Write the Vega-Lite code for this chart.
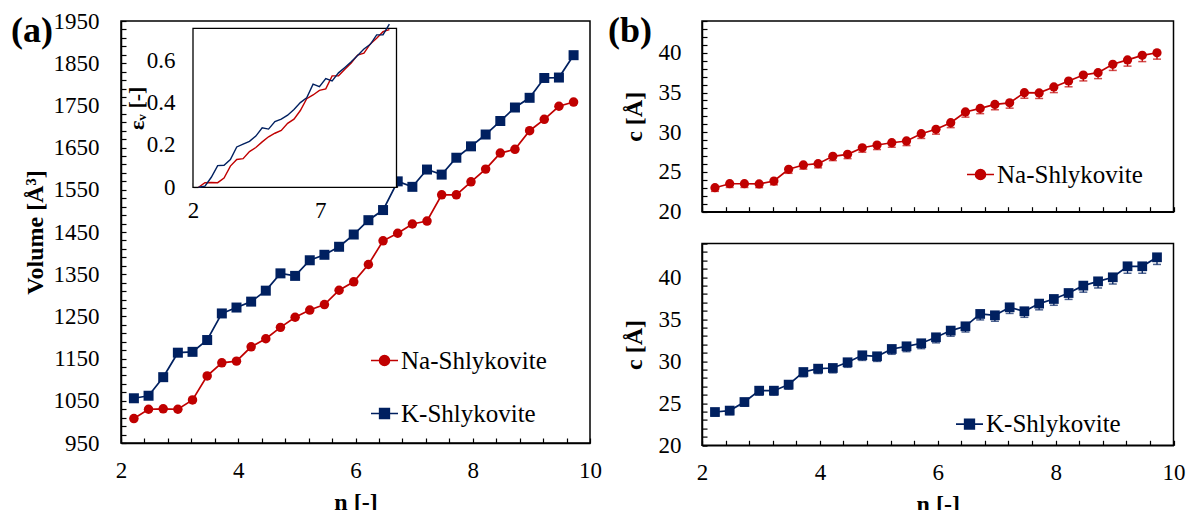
{
  "$schema": "https://vega.github.io/schema/vega-lite/v6.json",
  "padding": {"left": 10, "top": 9, "right": 0, "bottom": 0},
  "background": "white",
  "config": {
    "font": "Liberation Serif",
    "view": {"stroke": "black", "strokeWidth": 1.5}
  },
  "datasets": {
    "d": [
      {"n": 2.22, "s": "Na-Shlykovite", "V": 1008, "eps": 0, "c": 23.02, "lo": 22.56},
      {"n": 2.47, "s": "Na-Shlykovite", "V": 1030, "eps": 0.0218, "c": 23.52, "lo": 23.05},
      {"n": 2.72, "s": "Na-Shlykovite", "V": 1031, "eps": 0.0228, "c": 23.52, "lo": 23.05},
      {"n": 2.97, "s": "Na-Shlykovite", "V": 1030, "eps": 0.0218, "c": 23.5, "lo": 23.03},
      {"n": 3.22, "s": "Na-Shlykovite", "V": 1052, "eps": 0.0437, "c": 23.86, "lo": 23.38},
      {"n": 3.47, "s": "Na-Shlykovite", "V": 1109, "eps": 0.1002, "c": 25.34, "lo": 24.83},
      {"n": 3.72, "s": "Na-Shlykovite", "V": 1140, "eps": 0.131, "c": 25.88, "lo": 25.36},
      {"n": 3.97, "s": "Na-Shlykovite", "V": 1144, "eps": 0.1349, "c": 26.04, "lo": 25.52},
      {"n": 4.22, "s": "Na-Shlykovite", "V": 1178, "eps": 0.1687, "c": 26.97, "lo": 26.43},
      {"n": 4.47, "s": "Na-Shlykovite", "V": 1197, "eps": 0.1875, "c": 27.22, "lo": 26.68},
      {"n": 4.72, "s": "Na-Shlykovite", "V": 1224, "eps": 0.2143, "c": 28.05, "lo": 27.49},
      {"n": 4.97, "s": "Na-Shlykovite", "V": 1248, "eps": 0.2381, "c": 28.39, "lo": 27.82},
      {"n": 5.22, "s": "Na-Shlykovite", "V": 1265, "eps": 0.255, "c": 28.68, "lo": 28.11},
      {"n": 5.47, "s": "Na-Shlykovite", "V": 1278, "eps": 0.2679, "c": 28.9, "lo": 28.32},
      {"n": 5.72, "s": "Na-Shlykovite", "V": 1312, "eps": 0.3016, "c": 29.82, "lo": 29.22},
      {"n": 5.97, "s": "Na-Shlykovite", "V": 1332, "eps": 0.3214, "c": 30.37, "lo": 29.76},
      {"n": 6.22, "s": "Na-Shlykovite", "V": 1373, "eps": 0.3621, "c": 31.2, "lo": 30.58},
      {"n": 6.47, "s": "Na-Shlykovite", "V": 1429, "eps": 0.4177, "c": 32.55, "lo": 31.9},
      {"n": 6.72, "s": "Na-Shlykovite", "V": 1447, "eps": 0.4355, "c": 33.0, "lo": 32.34},
      {"n": 6.97, "s": "Na-Shlykovite", "V": 1469, "eps": 0.4573, "c": 33.5, "lo": 32.83},
      {"n": 7.22, "s": "Na-Shlykovite", "V": 1476, "eps": 0.4643, "c": 33.7, "lo": 33.03},
      {"n": 7.47, "s": "Na-Shlykovite", "V": 1538, "eps": 0.5258, "c": 34.98, "lo": 34.28},
      {"n": 7.72, "s": "Na-Shlykovite", "V": 1538, "eps": 0.5258, "c": 34.95, "lo": 34.25},
      {"n": 7.97, "s": "Na-Shlykovite", "V": 1569, "eps": 0.5565, "c": 35.7, "lo": 34.99},
      {"n": 8.22, "s": "Na-Shlykovite", "V": 1599, "eps": 0.5863, "c": 36.45, "lo": 35.72},
      {"n": 8.47, "s": "Na-Shlykovite", "V": 1637, "eps": 0.624, "c": 37.2, "lo": 36.46},
      {"n": 8.72, "s": "Na-Shlykovite", "V": 1646, "eps": 0.6329, "c": 37.5, "lo": 36.75},
      {"n": 8.97, "s": "Na-Shlykovite", "V": 1690, "eps": 0.6766, "c": 38.55, "lo": 37.78},
      {"n": 9.22, "s": "Na-Shlykovite", "V": 1717, "eps": 0.7034, "c": 39.1, "lo": 38.32},
      {"n": 9.47, "s": "Na-Shlykovite", "V": 1748, "eps": 0.7341, "c": 39.68, "lo": 38.89},
      {"n": 9.72, "s": "Na-Shlykovite", "V": 1758, "eps": 0.744, "c": 40.0, "lo": 39.2},
      {"n": 2.22, "s": "K-Shlykovite", "V": 1056, "eps": 0, "c": 23.96, "lo": 23.48},
      {"n": 2.47, "s": "K-Shlykovite", "V": 1062, "eps": 0.0057, "c": 24.13, "lo": 23.65},
      {"n": 2.72, "s": "K-Shlykovite", "V": 1106, "eps": 0.0473, "c": 25.15, "lo": 24.65},
      {"n": 2.97, "s": "K-Shlykovite", "V": 1164, "eps": 0.1023, "c": 26.5, "lo": 25.97},
      {"n": 3.22, "s": "K-Shlykovite", "V": 1166, "eps": 0.1042, "c": 26.5, "lo": 25.97},
      {"n": 3.47, "s": "K-Shlykovite", "V": 1194, "eps": 0.1307, "c": 27.22, "lo": 26.68},
      {"n": 3.72, "s": "K-Shlykovite", "V": 1257, "eps": 0.1903, "c": 28.72, "lo": 28.15},
      {"n": 3.97, "s": "K-Shlykovite", "V": 1271, "eps": 0.2036, "c": 29.12, "lo": 28.54},
      {"n": 4.22, "s": "K-Shlykovite", "V": 1285, "eps": 0.2169, "c": 29.2, "lo": 28.62},
      {"n": 4.47, "s": "K-Shlykovite", "V": 1311, "eps": 0.2415, "c": 29.88, "lo": 29.28},
      {"n": 4.72, "s": "K-Shlykovite", "V": 1352, "eps": 0.2803, "c": 30.71, "lo": 30.1},
      {"n": 4.97, "s": "K-Shlykovite", "V": 1346, "eps": 0.2746, "c": 30.59, "lo": 29.98},
      {"n": 5.22, "s": "K-Shlykovite", "V": 1383, "eps": 0.3097, "c": 31.46, "lo": 30.83},
      {"n": 5.47, "s": "K-Shlykovite", "V": 1396, "eps": 0.322, "c": 31.78, "lo": 31.14},
      {"n": 5.72, "s": "K-Shlykovite", "V": 1415, "eps": 0.34, "c": 32.14, "lo": 31.5},
      {"n": 5.97, "s": "K-Shlykovite", "V": 1444, "eps": 0.3674, "c": 32.85, "lo": 32.19},
      {"n": 6.22, "s": "K-Shlykovite", "V": 1478, "eps": 0.3996, "c": 33.65, "lo": 32.98},
      {"n": 6.47, "s": "K-Shlykovite", "V": 1502, "eps": 0.4223, "c": 34.16, "lo": 33.48},
      {"n": 6.72, "s": "K-Shlykovite", "V": 1570, "eps": 0.4867, "c": 35.63, "lo": 34.92},
      {"n": 6.97, "s": "K-Shlykovite", "V": 1557, "eps": 0.4744, "c": 35.47, "lo": 34.76},
      {"n": 7.22, "s": "K-Shlykovite", "V": 1598, "eps": 0.5133, "c": 36.42, "lo": 35.69},
      {"n": 7.47, "s": "K-Shlykovite", "V": 1586, "eps": 0.5019, "c": 35.95, "lo": 35.23},
      {"n": 7.72, "s": "K-Shlykovite", "V": 1626, "eps": 0.5398, "c": 36.86, "lo": 36.12},
      {"n": 7.97, "s": "K-Shlykovite", "V": 1653, "eps": 0.5653, "c": 37.41, "lo": 36.66},
      {"n": 8.22, "s": "K-Shlykovite", "V": 1681, "eps": 0.5919, "c": 38.12, "lo": 37.36},
      {"n": 8.47, "s": "K-Shlykovite", "V": 1713, "eps": 0.6222, "c": 39.0, "lo": 38.22},
      {"n": 8.72, "s": "K-Shlykovite", "V": 1745, "eps": 0.6525, "c": 39.51, "lo": 38.72},
      {"n": 8.97, "s": "K-Shlykovite", "V": 1768, "eps": 0.6742, "c": 39.99, "lo": 39.19},
      {"n": 9.22, "s": "K-Shlykovite", "V": 1815, "eps": 0.7188, "c": 41.3, "lo": 40.47},
      {"n": 9.47, "s": "K-Shlykovite", "V": 1816, "eps": 0.7197, "c": 41.3, "lo": 40.47},
      {"n": 9.72, "s": "K-Shlykovite", "V": 1869, "eps": 0.7699, "c": 42.37, "lo": 41.52}
    ]
  },
  "data": {"name": "d"},
  "bounds": "flush",
  "spacing": 112,
  "resolve": {"scale": {"shape": "independent", "color": "independent", "fill": "independent", "stroke": "independent"}, "legend": {"shape": "independent", "color": "independent", "fill": "independent", "stroke": "independent"}},
  "hconcat": [
    {
      "width": 469,
      "height": 422,
      "title": {"text": "(a)", "anchor": "start", "frame": "group", "orient": "top", "fontSize": 36, "fontWeight": "bold", "font": "Liberation Serif", "color": "black", "baseline": "alphabetic", "offset": 0, "dx": -110, "dy": 68},
      "resolve": {"scale": {"x": "independent", "y": "independent"}, "axis": {"x": "independent", "y": "independent"}},
      "layer": [
        {
          "encoding": {
            "x": {"field": "n", "type": "quantitative", "scale": {"domain": [2, 10], "nice": false, "zero": false},
              "axis": {"title": "n [-]", "format": "~g", "labelPadding": 21, "titlePadding": 8, "tickCount": 1000, "tickMinStep": 0.1,
                "labelFont": "Liberation Serif", "labelFontSize": 23, "labelColor": "black", "titleFont": "Liberation Serif", "titleFontSize": 24, "titleFontWeight": "bold", "titleColor": "black",
                "domainColor": "black", "domainWidth": 1.5, "tickColor": "black", "tickWidth": 1.2, "tickSize": -5, "labelOverlap": false, "labelFlush": false, "grid": false,
                "values": [2, 2.4, 2.8, 3.2, 3.6, 4, 4.4, 4.8, 5.2, 5.6, 6, 6.4, 6.8, 7.2, 7.6, 8, 8.4, 8.8, 9.2, 9.6, 10],
                "labelExpr": "datum.value % 2 === 0 ? datum.label : ''"}},
            "y": {"field": "V", "type": "quantitative", "scale": {"domain": [950, 1950], "nice": false, "zero": false},
              "axis": {"title": "Volume [Å³]", "format": "d", "labelPadding": 27, "titlePadding": 6, "tickCount": 1000, "tickMinStep": 0.1,
                "labelFont": "Liberation Serif", "labelFontSize": 23, "labelColor": "black", "titleFont": "Liberation Serif", "titleFontSize": 24, "titleFontWeight": "bold", "titleColor": "black",
                "domainColor": "black", "domainWidth": 1.5, "tickColor": "black", "tickWidth": 1.2, "tickSize": -5, "labelOverlap": false, "labelFlush": false, "grid": false,
                "values": [950, 970, 990, 1010, 1030, 1050, 1070, 1090, 1110, 1130, 1150, 1170, 1190, 1210, 1230, 1250, 1270, 1290, 1310, 1330, 1350, 1370, 1390, 1410, 1430, 1450, 1470, 1490, 1510, 1530, 1550, 1570, 1590, 1610, 1630, 1650, 1670, 1690, 1710, 1730, 1750, 1770, 1790, 1810, 1830, 1850, 1870, 1890, 1910, 1930, 1950],
                "labelExpr": "(datum.value - 950) % 100 === 0 ? datum.label : ''"}}
          },
          "layer": [
            {"transform": [{"filter": "datum.s === 'Na-Shlykovite'"}], "mark": {"type": "line", "color": "#C00000", "strokeWidth": 1.7}},
            {"transform": [{"filter": "datum.s === 'K-Shlykovite'"}], "mark": {"type": "line", "color": "#002060", "strokeWidth": 1.7}},
            {"transform": [{"filter": "datum.s === 'Na-Shlykovite'"}], "mark": {"type": "point", "shape": "circle", "filled": true, "size": 90, "color": "#C00000", "opacity": 1}},
            {"transform": [{"filter": "datum.s === 'K-Shlykovite'"}], "mark": {"type": "point", "shape": "square", "filled": true, "size": 100, "color": "#002060", "opacity": 1}},
            {
              "mark": {"type": "point", "filled": true, "opacity": 0, "size": 729, "strokeWidth": 1.6},
              "encoding": {
                "fill": {"field": "s", "type": "nominal", "scale": {"domain": ["Na-Shlykovite", "K-Shlykovite"], "range": ["#C00000", "#002060"]},
                  "legend": {"title": null, "orient": "none", "legendX": 249, "legendY": 325, "padding": 0, "symbolSize": 729, "symbolStrokeWidth": 1.6, "symbolOpacity": 1, "labelOffset": 2, "rowPadding": 25, "labelFont": "Liberation Serif", "labelFontSize": 25, "labelColor": "black", "labelLimit": 400}},
                "stroke": {"field": "s", "type": "nominal", "scale": {"domain": ["Na-Shlykovite", "K-Shlykovite"], "range": ["#C00000", "#002060"]},
                  "legend": {"title": null, "orient": "none", "legendX": 249, "legendY": 325, "padding": 0, "symbolSize": 729, "symbolStrokeWidth": 1.6, "symbolOpacity": 1, "labelOffset": 2, "rowPadding": 25, "labelFont": "Liberation Serif", "labelFontSize": 25, "labelColor": "black", "labelLimit": 400}},
                "shape": {"field": "s", "type": "nominal",
                  "scale": {"domain": ["Na-Shlykovite", "K-Shlykovite"], "range": ["M-1,0L1,0M-0.37,0A0.37,0.37,0,1,1,0.37,0A0.37,0.37,0,1,1,-0.37,0Z", "M-1,0L1,0M-0.36,-0.36L0.36,-0.36L0.36,0.36L-0.36,0.36Z"]},
                  "legend": {"title": null, "orient": "none", "legendX": 249, "legendY": 325, "padding": 0, "symbolSize": 729, "symbolStrokeWidth": 1.6, "symbolOpacity": 1, "labelOffset": 2, "rowPadding": 25, "labelFont": "Liberation Serif", "labelFontSize": 25, "labelColor": "black", "labelLimit": 400}}
              }
            }
          ]
        },
        {
          "layer": [
            {
              "data": {"values": [{}]},
              "mark": {"type": "rect", "fill": "white", "stroke": "black", "strokeWidth": 1.3},
              "encoding": {
                "x": {"datum": 2, "type": "quantitative", "scale": {"domain": [2, 10], "nice": false, "zero": false, "range": [72, 275.5]},
                  "axis": {"orient": "bottom", "offset": -255.7, "title": null, "format": "~g", "labelPadding": 17, "domain": false, "tickCount": 1000, "tickMinStep": 0.1,
                    "labelFont": "Liberation Serif", "labelFontSize": 23, "labelColor": "black", "tickColor": "black", "tickWidth": 1.2, "tickSize": -5, "labelOverlap": false, "labelFlush": false, "grid": false,
                    "values": [2, 3, 4, 5, 6, 7, 8, 9, 10],
                    "labelExpr": "datum.value === 2 || datum.value === 7 ? datum.label : ''"}},
                "x2": {"datum": 10},
                "y": {"datum": 0, "type": "quantitative", "scale": {"domain": [0, 0.75], "nice": false, "zero": false, "range": [166.3, 7.3]},
                  "axis": {"orient": "left", "offset": -72, "title": "εᵥ [-]", "titleFont": "Liberation Serif", "titleFontSize": 22, "titleFontWeight": "bold", "titleColor": "black", "titlePadding": -2, "format": "~g", "labelPadding": 23, "domain": false, "tickCount": 1000, "tickMinStep": 0.001,
                    "labelFont": "Liberation Serif", "labelFontSize": 23, "labelColor": "black", "tickColor": "black", "tickWidth": 1.2, "tickSize": -5, "labelOverlap": false, "labelFlush": false, "grid": false,
                    "values": [0, 0.04, 0.08, 0.12, 0.16, 0.2, 0.24, 0.28, 0.32, 0.36, 0.4, 0.44, 0.48, 0.52, 0.56, 0.6, 0.64, 0.68, 0.72],
                    "labelExpr": "indexof([0, 0.2, 0.4, 0.6], datum.value) >= 0 ? datum.label : ''"}},
                "y2": {"datum": 0.75}
              }
            },
            {
              "mark": {"type": "line", "strokeWidth": 1.4},
              "encoding": {
                "x": {"field": "n", "type": "quantitative"},
                "y": {"field": "eps", "type": "quantitative"},
                "color": {"field": "s", "type": "nominal", "scale": {"domain": ["Na-Shlykovite", "K-Shlykovite"], "range": ["#C00000", "#002060"]}, "legend": null}
              }
            }
          ]
        }
      ]
    },
    {
      "bounds": "flush",
      "spacing": 31.6,
      "resolve": {"scale": {"shape": "independent", "fill": "independent", "stroke": "independent", "y": "independent"}, "legend": {"shape": "independent", "fill": "independent", "stroke": "independent"}},
      "vconcat": [
        {
          "width": 471.5,
          "height": 190.7,
          "title": {"text": "(b)", "anchor": "start", "frame": "group", "orient": "top", "fontSize": 36, "fontWeight": "bold", "font": "Liberation Serif", "color": "black", "baseline": "alphabetic", "offset": 0, "dx": -94, "dy": 68},
          "transform": [{"filter": "datum.s === 'Na-Shlykovite'"}],
          "encoding": {
            "x": {"field": "n", "type": "quantitative", "scale": {"domain": [2, 10], "nice": false, "zero": false},
              "axis": {"title": null, "labels": false, "domainColor": "black", "domainWidth": 1.5, "tickColor": "black", "tickWidth": 1.2, "tickSize": -5, "grid": false, "tickCount": 1000, "tickMinStep": 0.1,
                "values": [2, 2.4, 2.8, 3.2, 3.6, 4, 4.4, 4.8, 5.2, 5.6, 6, 6.4, 6.8, 7.2, 7.6, 8, 8.4, 8.8, 9.2, 9.6, 10]}},
            "y": {"field": "c", "type": "quantitative", "scale": {"domain": [20, 44], "nice": false, "zero": false},
              "axis": {"title": "c [Å]", "format": "d", "labelPadding": 26, "titlePadding": 12, "tickCount": 1000, "tickMinStep": 0.1,
                "labelFont": "Liberation Serif", "labelFontSize": 23, "labelColor": "black", "titleFont": "Liberation Serif", "titleFontSize": 24, "titleFontWeight": "bold", "titleColor": "black",
                "domainColor": "black", "domainWidth": 1.5, "tickColor": "black", "tickWidth": 1.2, "tickSize": -5, "labelOverlap": false, "labelFlush": false, "grid": false,
                "values": [20, 21, 22, 23, 24, 25, 26, 27, 28, 29, 30, 31, 32, 33, 34, 35, 36, 37, 38, 39, 40, 41, 42, 43, 44],
                "labelExpr": "datum.value % 5 === 0 ? datum.label : ''"}}
          },
          "layer": [
            {
              "mark": {"type": "errorbar", "color": "#C00000", "thickness": 1.3, "ticks": {"size": 8, "thickness": 1.5}},
              "encoding": {
                "y": {"field": "lo", "type": "quantitative", "scale": {"domain": [20, 44], "nice": false, "zero": false},
                  "axis": {"title": "c [Å]", "format": "d", "labelPadding": 26, "titlePadding": 12, "tickCount": 1000, "tickMinStep": 0.1,
                    "labelFont": "Liberation Serif", "labelFontSize": 23, "labelColor": "black", "titleFont": "Liberation Serif", "titleFontSize": 24, "titleFontWeight": "bold", "titleColor": "black",
                    "domainColor": "black", "domainWidth": 1.5, "tickColor": "black", "tickWidth": 1.2, "tickSize": -5, "labelOverlap": false, "labelFlush": false, "grid": false,
                    "values": [20, 21, 22, 23, 24, 25, 26, 27, 28, 29, 30, 31, 32, 33, 34, 35, 36, 37, 38, 39, 40, 41, 42, 43, 44],
                    "labelExpr": "datum.value % 5 === 0 ? datum.label : ''"}},
                "y2": {"field": "c"}
              }
            },
            {"mark": {"type": "line", "color": "#C00000", "strokeWidth": 1.7}},
            {"mark": {"type": "point", "shape": "circle", "filled": true, "size": 85, "color": "#C00000", "opacity": 1}},
            {
              "mark": {"type": "point", "filled": true, "opacity": 0, "size": 729, "strokeWidth": 1.6},
              "encoding": {
                "fill": {"field": "s", "type": "nominal", "scale": {"domain": ["Na-Shlykovite"], "range": ["#C00000"]},
                  "legend": {"title": null, "orient": "none", "legendX": 264, "legendY": 139, "padding": 0, "symbolSize": 729, "symbolStrokeWidth": 1.6, "symbolOpacity": 1, "labelOffset": 2, "labelFont": "Liberation Serif", "labelFontSize": 25, "labelColor": "black", "labelLimit": 400}},
                "stroke": {"field": "s", "type": "nominal", "scale": {"domain": ["Na-Shlykovite"], "range": ["#C00000"]},
                  "legend": {"title": null, "orient": "none", "legendX": 264, "legendY": 139, "padding": 0, "symbolSize": 729, "symbolStrokeWidth": 1.6, "symbolOpacity": 1, "labelOffset": 2, "labelFont": "Liberation Serif", "labelFontSize": 25, "labelColor": "black", "labelLimit": 400}},
                "shape": {"field": "s", "type": "nominal",
                  "scale": {"domain": ["Na-Shlykovite"], "range": ["M-1,0L1,0M-0.37,0A0.37,0.37,0,1,1,0.37,0A0.37,0.37,0,1,1,-0.37,0Z"]},
                  "legend": {"title": null, "orient": "none", "legendX": 264, "legendY": 139, "padding": 0, "symbolSize": 729, "symbolStrokeWidth": 1.6, "symbolOpacity": 1, "labelOffset": 2, "labelFont": "Liberation Serif", "labelFontSize": 25, "labelColor": "black", "labelLimit": 400}}
              }
            }
          ]
        },
        {
          "width": 471.5,
          "height": 201.7,
          "transform": [{"filter": "datum.s === 'K-Shlykovite'"}],
          "encoding": {
            "x": {"field": "n", "type": "quantitative", "scale": {"domain": [2, 10], "nice": false, "zero": false},
              "axis": {"title": "n [-]", "format": "~g", "labelPadding": 21, "titlePadding": 8, "tickCount": 1000, "tickMinStep": 0.1,
                "labelFont": "Liberation Serif", "labelFontSize": 23, "labelColor": "black", "titleFont": "Liberation Serif", "titleFontSize": 24, "titleFontWeight": "bold", "titleColor": "black",
                "domainColor": "black", "domainWidth": 1.5, "tickColor": "black", "tickWidth": 1.2, "tickSize": -5, "labelOverlap": false, "labelFlush": false, "grid": false,
                "values": [2, 2.4, 2.8, 3.2, 3.6, 4, 4.4, 4.8, 5.2, 5.6, 6, 6.4, 6.8, 7.2, 7.6, 8, 8.4, 8.8, 9.2, 9.6, 10],
                "labelExpr": "datum.value % 2 === 0 ? datum.label : ''"}},
            "y": {"field": "c", "type": "quantitative", "scale": {"domain": [20, 44], "nice": false, "zero": false},
              "axis": {"title": "c [Å]", "format": "d", "labelPadding": 26, "titlePadding": 12, "tickCount": 1000, "tickMinStep": 0.1,
                "labelFont": "Liberation Serif", "labelFontSize": 23, "labelColor": "black", "titleFont": "Liberation Serif", "titleFontSize": 24, "titleFontWeight": "bold", "titleColor": "black",
                "domainColor": "black", "domainWidth": 1.5, "tickColor": "black", "tickWidth": 1.2, "tickSize": -5, "labelOverlap": false, "labelFlush": false, "grid": false,
                "values": [20, 21, 22, 23, 24, 25, 26, 27, 28, 29, 30, 31, 32, 33, 34, 35, 36, 37, 38, 39, 40, 41, 42, 43, 44],
                "labelExpr": "datum.value % 5 === 0 ? datum.label : ''"}}
          },
          "layer": [
            {
              "mark": {"type": "errorbar", "color": "#002060", "thickness": 1.3, "ticks": {"size": 8, "thickness": 1.5}},
              "encoding": {
                "y": {"field": "lo", "type": "quantitative", "scale": {"domain": [20, 44], "nice": false, "zero": false},
                  "axis": {"title": "c [Å]", "format": "d", "labelPadding": 26, "titlePadding": 12, "tickCount": 1000, "tickMinStep": 0.1,
                    "labelFont": "Liberation Serif", "labelFontSize": 23, "labelColor": "black", "titleFont": "Liberation Serif", "titleFontSize": 24, "titleFontWeight": "bold", "titleColor": "black",
                    "domainColor": "black", "domainWidth": 1.5, "tickColor": "black", "tickWidth": 1.2, "tickSize": -5, "labelOverlap": false, "labelFlush": false, "grid": false,
                    "values": [20, 21, 22, 23, 24, 25, 26, 27, 28, 29, 30, 31, 32, 33, 34, 35, 36, 37, 38, 39, 40, 41, 42, 43, 44],
                    "labelExpr": "datum.value % 5 === 0 ? datum.label : ''"}},
                "y2": {"field": "c"}
              }
            },
            {"mark": {"type": "line", "color": "#002060", "strokeWidth": 1.7}},
            {"mark": {"type": "point", "shape": "square", "filled": true, "size": 95, "color": "#002060", "opacity": 1}},
            {
              "mark": {"type": "point", "filled": true, "opacity": 0, "size": 729, "strokeWidth": 1.6},
              "encoding": {
                "fill": {"field": "s", "type": "nominal", "scale": {"domain": ["K-Shlykovite"], "range": ["#002060"]},
                  "legend": {"title": null, "orient": "none", "legendX": 253, "legendY": 166, "padding": 0, "symbolSize": 729, "symbolStrokeWidth": 1.6, "symbolOpacity": 1, "labelOffset": 2, "labelFont": "Liberation Serif", "labelFontSize": 25, "labelColor": "black", "labelLimit": 400}},
                "stroke": {"field": "s", "type": "nominal", "scale": {"domain": ["K-Shlykovite"], "range": ["#002060"]},
                  "legend": {"title": null, "orient": "none", "legendX": 253, "legendY": 166, "padding": 0, "symbolSize": 729, "symbolStrokeWidth": 1.6, "symbolOpacity": 1, "labelOffset": 2, "labelFont": "Liberation Serif", "labelFontSize": 25, "labelColor": "black", "labelLimit": 400}},
                "shape": {"field": "s", "type": "nominal",
                  "scale": {"domain": ["K-Shlykovite"], "range": ["M-1,0L1,0M-0.36,-0.36L0.36,-0.36L0.36,0.36L-0.36,0.36Z"]},
                  "legend": {"title": null, "orient": "none", "legendX": 253, "legendY": 166, "padding": 0, "symbolSize": 729, "symbolStrokeWidth": 1.6, "symbolOpacity": 1, "labelOffset": 2, "labelFont": "Liberation Serif", "labelFontSize": 25, "labelColor": "black", "labelLimit": 400}}
              }
            }
          ]
        }
      ]
    }
  ]
}
